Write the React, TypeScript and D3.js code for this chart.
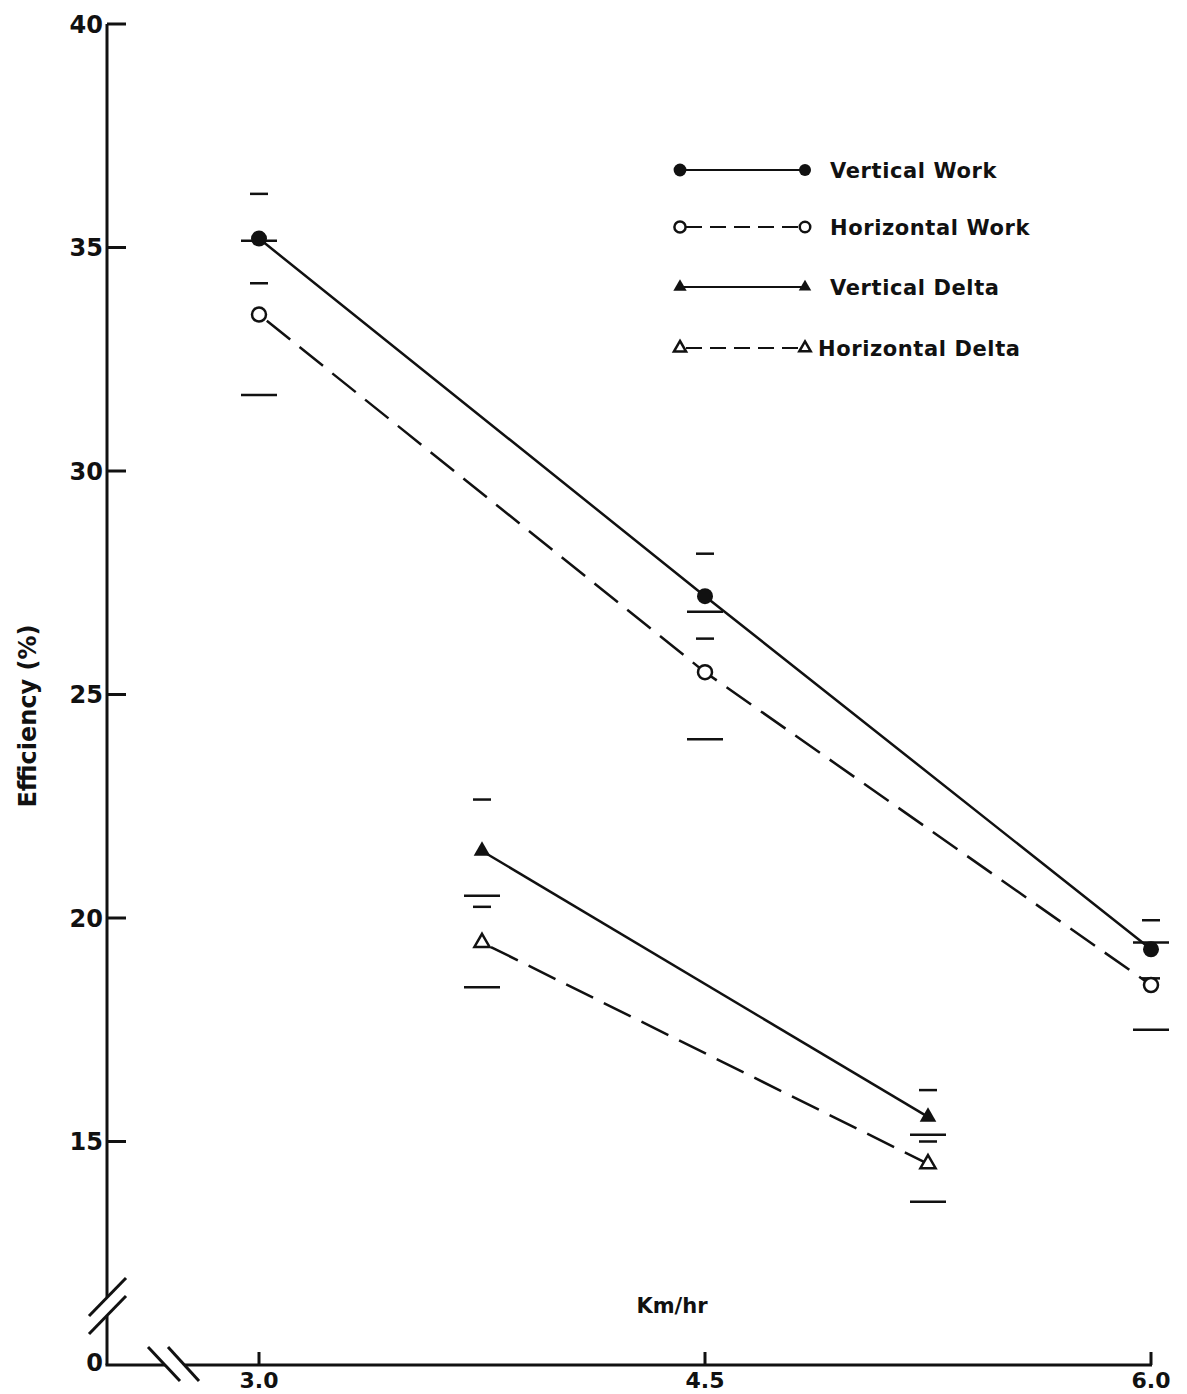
import React from "react";
import * as d3 from "d3";

// ---- data ----
const workSpeeds = [3.0, 4.5, 6.0];
const deltaSpeeds = [3.75, 5.25];

const verticalWork = [35.2, 27.2, 19.3];
const verticalWorkHi = [36.2, 28.15, 19.95];
const verticalWorkLo = [34.2, 26.25, 18.65];

const horizontalWork = [33.5, 25.5, 18.5];
const horizontalWorkHi = [35.15, 26.85, 19.45];
const horizontalWorkLo = [31.7, 24.0, 17.5];

const verticalDelta = [21.5, 15.55];
const verticalDeltaHi = [22.65, 16.15];
const verticalDeltaLo = [20.25, 15.0];

const horizontalDelta = [19.45, 14.5];
const horizontalDeltaHi = [20.5, 15.15];
const horizontalDeltaLo = [18.45, 13.65];

const yTicks = [15, 20, 25, 30, 35, 40];
const xTicks = [3.0, 4.5, 6.0];
const xTickLabels = ["3.0", "4.5", "6.0"];
const yBase = 10; // axis origin drawn as "0" (broken axis)
const yBaseLabel = "0";
const legendLabels = ["Vertical Work", "Horizontal Work", "Vertical Delta", "Horizontal Delta"];
const xTitle = "Km/hr";
const yTitle = "Efficiency (%)";

const W = 1187;
const H = 1394;
const INK = "#111";
const FONT = "'DejaVu Sans', sans-serif";

export default function App() {
  const x = d3.scaleLinear().domain([3.0, 6.0]).range([259, 1151]);
  const y = d3.scaleLinear().domain([yBase, 40]).range([1365, 24]);
  const axisX = 107;
  const axisY = y(yBase);

  const line = d3
    .line<[number, number]>()
    .x((d) => x(d[0]))
    .y((d) => y(d[1]));

  const tri = d3.symbol().type(d3.symbolTriangle);

  const series = [
    { xs: workSpeeds, ys: verticalWork, hi: verticalWorkHi, lo: verticalWorkLo, dashed: false, marker: "circleFilled", barW: 18 },
    { xs: workSpeeds, ys: horizontalWork, hi: horizontalWorkHi, lo: horizontalWorkLo, dashed: true, marker: "circleOpen", barW: 36 },
    { xs: deltaSpeeds, ys: verticalDelta, hi: verticalDeltaHi, lo: verticalDeltaLo, dashed: false, marker: "triFilled", barW: 18 },
    { xs: deltaSpeeds, ys: horizontalDelta, hi: horizontalDeltaHi, lo: horizontalDeltaLo, dashed: true, marker: "triOpen", barW: 36 },
  ];

  const drawMarker = (kind: string, cx: number, cy: number, scale = 1, key?: string) => {
    if (kind === "circleFilled")
      return <circle key={key} cx={cx} cy={cy} r={8 * scale} fill={INK} />;
    if (kind === "circleOpen")
      return <circle key={key} cx={cx} cy={cy} r={7 * scale} fill="white" stroke={INK} strokeWidth={2.5} />;
    if (kind === "triFilled")
      return <path key={key} d={tri.size(120 * scale * scale)()!} transform={`translate(${cx},${cy})`} fill={INK} />;
    return (
      <path key={key} d={tri.size(100 * scale * scale)()!} transform={`translate(${cx},${cy})`} fill="white" stroke={INK} strokeWidth={2.5} />
    );
  };

  const legendX0 = 680;
  const legendX1 = 805;
  const legendYs = [170, 227, 287, 348];

  return (
    <svg
      width={W}
      height={H}
      viewBox={`0 0 ${W} ${H}`}
      style={{ position: "absolute", left: 0, top: 0, background: "white" }}
    >
      <rect x={0} y={0} width={W} height={H} fill="white" />

      {/* Y axis with break */}
      <line x1={axisX} y1={y(40)} x2={axisX} y2={1297} stroke={INK} strokeWidth={3} />
      <line x1={axisX} y1={1316} x2={axisX} y2={axisY} stroke={INK} strokeWidth={3} />
      <line x1={89} y1={1316} x2={126} y2={1278} stroke={INK} strokeWidth={3} />
      <line x1={89} y1={1334} x2={126} y2={1296} stroke={INK} strokeWidth={3} />

      {/* X axis with break */}
      <line x1={axisX - 1.5} y1={axisY} x2={165} y2={axisY} stroke={INK} strokeWidth={3} />
      <line x1={185} y1={axisY} x2={x(6.0) + 1} y2={axisY} stroke={INK} strokeWidth={3} />
      <line x1={148} y1={1347} x2={180} y2={1381} stroke={INK} strokeWidth={3} />
      <line x1={168} y1={1347} x2={199} y2={1381} stroke={INK} strokeWidth={3} />

      {/* Y ticks */}
      {yTicks.map((t) => (
        <g key={`yt${t}`}>
          <line x1={axisX} y1={y(t)} x2={axisX + 19} y2={y(t)} stroke={INK} strokeWidth={3} />
          <text x={103} y={y(t)} dy="0.36em" textAnchor="end" fontFamily={FONT} fontWeight="bold" fontSize={24} fill={INK}>
            {t}
          </text>
        </g>
      ))}
      <text x={103} y={axisY - 3} dy="0.36em" textAnchor="end" fontFamily={FONT} fontWeight="bold" fontSize={24} fill={INK}>
        {yBaseLabel}
      </text>

      {/* X ticks */}
      {xTicks.map((t, i) => (
        <g key={`xt${t}`}>
          <line x1={x(t)} y1={axisY} x2={x(t)} y2={axisY - 13} stroke={INK} strokeWidth={3} />
          <text x={x(t)} y={1388} textAnchor="middle" fontFamily={FONT} fontWeight="bold" fontSize={22} fill={INK}>
            {xTickLabels[i]}
          </text>
        </g>
      ))}

      {/* Axis titles */}
      <text x={672} y={1313} textAnchor="middle" fontFamily={FONT} fontWeight="bold" fontSize={21} fill={INK}>
        {xTitle}
      </text>
      <text
        transform={`translate(36,716) rotate(-90)`}
        textAnchor="middle"
        fontFamily={FONT}
        fontWeight="bold"
        fontSize={24}
        fill={INK}
      >
        {yTitle}
      </text>

      {/* Error bars */}
      {series.map((s, si) =>
        s.xs.map((v, i) => (
          <g key={`eb${si}-${i}`}>
            <line x1={x(v) - s.barW / 2} x2={x(v) + s.barW / 2} y1={y(s.hi[i])} y2={y(s.hi[i])} stroke={INK} strokeWidth={2.5} />
            <line x1={x(v) - s.barW / 2} x2={x(v) + s.barW / 2} y1={y(s.lo[i])} y2={y(s.lo[i])} stroke={INK} strokeWidth={2.5} />
          </g>
        ))
      )}

      {/* Lines */}
      {series.map((s, si) => (
        <path
          key={`ln${si}`}
          d={line(s.xs.map((v, i) => [v, s.ys[i]] as [number, number]))!}
          fill="none"
          stroke={INK}
          strokeWidth={2.5}
          strokeDasharray={s.dashed ? "30,12" : undefined}
          strokeDashoffset={s.dashed ? -10 : 0}
        />
      ))}

      {/* Markers */}
      {series.map((s, si) => s.xs.map((v, i) => drawMarker(s.marker, x(v), y(s.ys[i]), 1, `mk${si}-${i}`)))}

      {/* Legend */}
      {series.map((s, si) => (
        <g key={`lg${si}`}>
          <line
            x1={legendX0}
            x2={legendX1}
            y1={legendYs[si]}
            y2={legendYs[si]}
            stroke={INK}
            strokeWidth={1.8}
            strokeDasharray={s.dashed ? "16,8" : undefined}
            strokeDashoffset={s.dashed ? -6 : 0}
          />
          {drawMarker(s.marker, legendX0, legendYs[si], 0.8, `lgm0${si}`)}
          {drawMarker(s.marker, legendX1, legendYs[si], 0.75, `lgm1${si}`)}
          <text
            x={si === 3 ? 818 : 830}
            y={legendYs[si]}
            dy="0.36em"
            fontFamily={FONT}
            fontWeight="bold"
            fontSize={21}
            letterSpacing={0.6}
            fill={INK}
          >
            {legendLabels[si]}
          </text>
        </g>
      ))}
    </svg>
  );
}
